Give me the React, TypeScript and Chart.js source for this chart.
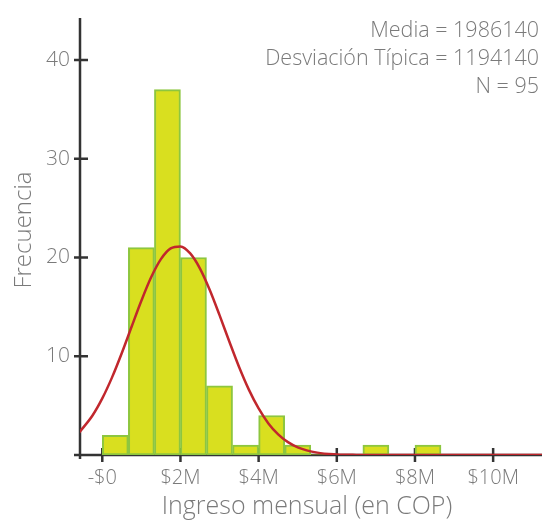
import React, { useEffect, useRef } from 'react';
import { Chart, registerables } from 'chart.js';

Chart.register(...registerables);

// Histogram bins (centres in millions of COP) and frequencies
const binCenters = [0.333, 1.0, 1.667, 2.333, 3.0, 3.667, 4.333, 5.0, 5.667, 6.333, 7.0, 7.667, 8.333];
const counts = [2, 21, 37, 20, 7, 1, 4, 1, 0, 0, 1, 0, 1];

// Fitted normal curve (x in millions of COP, y in frequency)
const curveX = [-0.6, -0.25, 0, 0.25, 0.5, 0.75, 1.0, 1.25, 1.5, 1.75, 2.0, 2.25, 2.5, 2.75, 3.0, 3.25, 3.5, 3.75, 4.0, 4.25, 4.5, 4.75, 5.0, 5.5, 6.0, 6.5, 7.0, 8.0, 9.0, 10.0, 11.3];
const curveY = [2.24, 4.0, 5.73, 7.86, 10.33, 12.99, 15.62, 17.99, 19.83, 20.92, 21.12, 20.41, 18.88, 16.71, 14.16, 11.49, 8.91, 6.62, 4.71, 3.2, 2.09, 1.3, 0.78, 0.24, 0.06, 0.01, 0, 0, 0, 0, 0];

const xTickValues = [0, 2, 4, 6, 8, 10];
const yTickValues = [10, 20, 30, 40];
const statsLines = ['Media = 1986140', 'Desviación Típica = 1194140', 'N = 95'];
const xTitle = 'Ingreso mensual (en COP)';
const yTitle = 'Frecuencia';

const FONT = "'Open Sans', sans-serif";
const TEXT_COLOR = '#7a7a7a';
const AXIS_COLOR = '#333333';

const axesPlugin = {
  id: 'crossAxes',
  beforeDatasetsDraw(chart: any) {
    const { ctx, chartArea } = chart;
    const xs = chart.scales.x;
    const ys = chart.scales.y;
    ctx.save();
    ctx.strokeStyle = AXIS_COLOR;
    ctx.lineWidth = 2.5;
    ctx.lineCap = 'butt';
    ctx.beginPath();
    ctx.moveTo(chartArea.left, chartArea.top);
    ctx.lineTo(chartArea.left, chartArea.bottom + 4);
    ctx.moveTo(chartArea.left - 6, chartArea.bottom);
    ctx.lineTo(chartArea.right, chartArea.bottom);
    yTickValues.forEach((v) => {
      const py = ys.getPixelForValue(v);
      ctx.moveTo(chartArea.left - 6, py);
      ctx.lineTo(chartArea.left + 8, py);
    });
    xTickValues.forEach((v) => {
      const px = xs.getPixelForValue(v);
      ctx.moveTo(px, chartArea.bottom - 7);
      ctx.lineTo(px, chartArea.bottom + 7);
    });
    ctx.stroke();
    ctx.restore();
  },
  afterDraw(chart: any) {
    const { ctx } = chart;
    ctx.save();
    ctx.fillStyle = TEXT_COLOR;
    ctx.font = `300 21.5px ${FONT}`;
    ctx.textAlign = 'right';
    ctx.textBaseline = 'alphabetic';
    statsLines.forEach((line, i) => {
      ctx.fillText(line, 539, 37 + i * 28);
    });
    // axis titles
    ctx.font = `300 25px ${FONT}`;
    ctx.textAlign = 'center';
    ctx.textBaseline = 'middle';
    ctx.fillText(xTitle, 307, 506.5);
    ctx.save();
    ctx.translate(24, 230);
    ctx.rotate(-Math.PI / 2);
    ctx.font = `300 24px ${FONT}`;
    ctx.fillText(yTitle, 0, 0);
    ctx.restore();
    ctx.restore();
  },
};

export default function App() {
  const canvasRef = useRef<HTMLCanvasElement | null>(null);

  useEffect(() => {
    const canvas = canvasRef.current;
    if (!canvas) return;
    const chart = new Chart(canvas, {
      type: 'bar',
      data: {
        datasets: [
          {
            type: 'line',
            label: 'Normal',
            data: curveX.map((x, i) => ({ x, y: curveY[i] })),
            borderColor: '#c1272d',
            borderWidth: 2.5,
            pointRadius: 0,
            cubicInterpolationMode: 'monotone',
            fill: false,
            order: 0,
          } as any,
          {
            type: 'bar',
            label: 'Frecuencia',
            data: binCenters.map((x, i) => ({ x, y: counts[i] })),
            backgroundColor: '#d9df1f',
            borderColor: '#8dc63f',
            borderWidth: (c: any) => (c.raw && c.raw.y > 0 ? 2 : 0),
            borderSkipped: false,
            barPercentage: 1,
            categoryPercentage: 1,
            grouped: false,
            order: 1,
          } as any,
        ],
      },
      options: {
        responsive: true,
        maintainAspectRatio: false,
        animation: false,
        layout: { padding: { top: 18, right: 0, left: 0, bottom: 0 } },
        plugins: {
          legend: { display: false },
          tooltip: { enabled: false },
        },
        scales: {
          x: {
            type: 'linear',
            min: -0.57,
            max: 11.25,
            offset: false,
            afterFit: (s: any) => {
              s.height = 65;
              s.paddingLeft = 0; s.paddingRight = 0; s.paddingTop = 0; s.paddingBottom = 0;
            },
            afterBuildTicks: (s: any) => { s.ticks = xTickValues.map((v) => ({ value: v })); },
            grid: { display: false, drawTicks: false },
            border: { display: false },
            ticks: {
              padding: 11,
              color: TEXT_COLOR,
              font: { family: FONT, size: 20, weight: '300' as any },
              callback: (v: any) => (v === 0 ? '-$0' : `$${v}M`),
            },
            title: { display: false, text: xTitle },
          },
          y: {
            type: 'linear',
            min: 0,
            max: 44.25,
            afterFit: (s: any) => {
              s.width = 80;
              s.paddingLeft = 0; s.paddingRight = 0; s.paddingTop = 0; s.paddingBottom = 0;
            },
            afterBuildTicks: (s: any) => { s.ticks = yTickValues.map((v) => ({ value: v })); },
            grid: { display: false, drawTicks: false },
            border: { display: false },
            ticks: {
              padding: 10,
              color: TEXT_COLOR,
              font: { family: FONT, size: 21, weight: '300' as any },
            },
            title: { display: false, text: yTitle },
          },
        },
      },
      plugins: [axesPlugin],
    });
    return () => chart.destroy();
  }, []);

  return (
    <div style={{ position: 'fixed', left: 0, top: 0, width: 542, height: 520 }}>
      <canvas ref={canvasRef} />
    </div>
  );
}
